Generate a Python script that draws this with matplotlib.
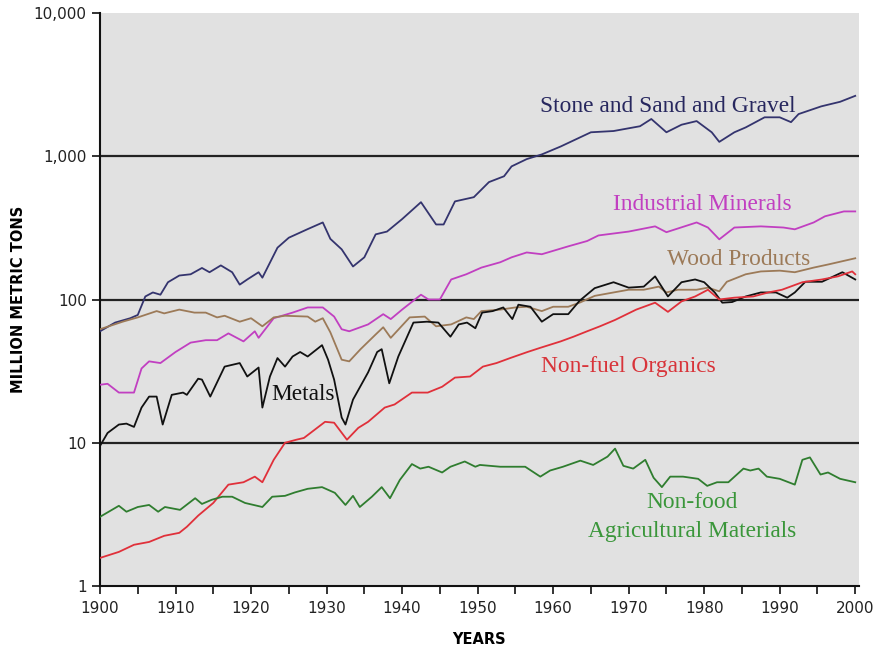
import matplotlib
matplotlib.use("Agg")
import matplotlib.pyplot as plt
from matplotlib.ticker import FixedLocator, MultipleLocator, NullLocator

# ---- series (year, million metric tons) ----
stone_years = [1900, 1902, 1904, 1905, 1906, 1907, 1908, 1909, 1910.5, 1912, 1913.5, 1914.5,
               1916, 1917.5, 1918.5, 1919.5, 1921, 1921.5, 1923.5, 1925, 1927.5, 1929.5, 1930.5,
               1932, 1933.5, 1935, 1936.5, 1938, 1940, 1942.5, 1944.5, 1945.5, 1947, 1949.5,
               1951.5, 1953.5, 1954.5, 1956.5, 1958.5, 1961, 1965, 1968, 1971.5, 1973, 1975,
               1977, 1979, 1981, 1982, 1984, 1985.5, 1988, 1990, 1991.5, 1992.5, 1995.5, 1998, 2000]
stone_vals = [60, 69, 74, 78, 105, 112, 108, 132, 147, 150, 166, 155,
              173, 155, 127, 138, 155, 142, 230, 270, 310, 345, 265,
              224, 170, 197, 285, 298, 364, 478, 334, 334, 484, 518,
              660, 725, 850, 955, 1030, 1170, 1470, 1500, 1620, 1820, 1470,
              1660, 1760, 1470, 1260, 1470, 1590, 1870, 1870, 1730, 1970, 2230, 2400, 2640]

indmin_years = [1900, 1901, 1902.5, 1904.5, 1905.5, 1906.5, 1908, 1910, 1912, 1914, 1915.5,
                1917, 1919, 1920.5, 1921, 1923, 1925.5, 1927.5, 1929.5, 1931, 1932, 1933,
                1935.5, 1937.5, 1938.5, 1940, 1942.5, 1943.5, 1945, 1946.5, 1948.5, 1950.5,
                1953, 1954.5, 1956.5, 1958.5, 1962, 1964.5, 1966, 1970, 1973.5, 1975, 1979,
                1980.5, 1982, 1984, 1987.5, 1990.5, 1992, 1994.5, 1996, 1998.5, 2000]
indmin_vals = [25.4, 25.8, 22.4, 22.4, 33, 37, 36, 43, 50, 52, 52,
               58, 51, 60, 54, 74, 81, 88, 88, 76, 62, 60,
               67, 79, 73, 85, 108, 100, 100, 138, 150, 167,
               182, 197, 213, 207, 235, 256, 280, 298, 324, 295, 345,
               318, 263, 318, 324, 318, 309, 345, 381, 412, 412]

wood_years = [1900, 1903, 1905, 1907.5, 1908.5, 1910.5, 1912.5, 1914, 1915.5, 1916.5, 1918.5,
              1920, 1921.5, 1923, 1924.5, 1927.5, 1928.5, 1929.5, 1930.5, 1932, 1933, 1934.5,
              1936.5, 1937.5, 1938.5, 1941, 1943, 1944.5, 1946.5, 1948.5, 1949.5, 1950.5,
              1953, 1955, 1956.5, 1958.5, 1960, 1962, 1963.5, 1965.5, 1968, 1970, 1972,
              1974, 1975, 1976.5, 1979, 1980.5, 1982, 1983, 1985.5, 1987.5, 1990, 1992,
              1994.5, 1996.5, 2000]
wood_vals = [62, 70, 75, 83, 80, 85, 81, 81, 75, 77, 70,
             74, 65, 75, 77, 76, 70, 74, 59, 38, 37, 45,
             57, 64, 54, 75, 76, 65, 67, 75, 73, 83,
             85, 88, 89, 83, 89, 89, 95, 106, 112, 117, 117,
             123, 112, 117, 117, 121, 114, 133, 150, 157, 159, 155,
             167, 176, 194]

metals_years = [1900, 1901, 1902.5, 1903.5, 1904.5, 1905.5, 1906.5, 1907.5, 1908.3, 1909.5,
                1911, 1911.5, 1913, 1913.5, 1914.6, 1916.5, 1918.5, 1919.5, 1921, 1921.5,
                1922.5, 1923.5, 1924.5, 1925.5, 1926.5, 1927.5, 1929.4, 1930.2, 1931,
                1932, 1932.5, 1933.5, 1935.5, 1936.7, 1937.3, 1938.3, 1939.5, 1941.5,
                1943.3, 1944.8, 1946.4, 1947.5, 1948.6, 1949.7, 1950.6, 1952, 1953.4,
                1954.6, 1955.4, 1957, 1958.5, 1960, 1962, 1963.5, 1965.5, 1968, 1970, 1972,
                1973.5, 1975.2, 1977, 1978.8, 1980, 1981.4, 1982.4, 1983.7, 1985.5, 1987.5,
                1989.5, 1991, 1992, 1993.4, 1995.6, 1998.3, 2000]
metals_vals = [9.5, 11.7, 13.4, 13.6, 12.9, 17.6, 21, 21, 13.4, 21.6,
               22.4, 21.6, 28, 27.6, 21, 34, 36, 29, 33.5, 17.6,
               29, 39, 34, 40, 43, 40, 48, 38, 27.6,
               15, 13.4, 20, 31, 43, 45, 26, 40, 69,
               70, 69, 55, 67, 69, 63, 81, 83, 88,
               73, 92, 89, 70, 79, 79, 98, 120, 132, 121, 123,
               145, 105, 132, 138, 132, 112, 95, 96, 105, 112,
               112, 103, 112, 133, 133, 155, 138]

organics_years = [1900, 1902.5, 1904.5, 1906.5, 1908.5, 1910.5, 1911.5, 1913, 1915, 1917,
                  1919, 1920.5, 1921.5, 1923, 1924.5, 1926, 1927, 1929.8, 1931, 1932.7,
                  1934.2, 1935.5, 1937.7, 1939, 1941.3, 1943.4, 1945.3, 1947, 1949, 1950.7,
                  1952.5, 1954.3, 1956.6, 1958.3, 1961, 1962.7, 1964.5, 1966.2, 1968.2,
                  1971, 1973.5, 1975.2, 1977, 1978.8, 1980.5, 1982, 1984, 1986.5, 1988.5,
                  1990.3, 1993, 1995.6, 1997.7, 1999.6, 2000]
organics_vals = [1.57, 1.73, 1.94, 2.03, 2.24, 2.35, 2.59, 3.1, 3.8, 5.1,
                 5.3, 5.8, 5.3, 7.6, 10, 10.5, 10.8, 14, 13.8, 10.5,
                 12.7, 14, 17.6, 18.5, 22.4, 22.4, 24.6, 28.5, 29, 34,
                 36, 39, 43, 46, 51, 55, 60, 65, 72,
                 85, 95, 82, 97, 105, 117, 100, 103, 105, 112,
                 117, 132, 138, 145, 157, 150]

agri_years = [1900, 1902.5, 1903.5, 1905, 1906.5, 1907.7, 1908.6, 1910.6, 1912.6, 1913.5,
              1914.8, 1916.2, 1917.5, 1919.2, 1921.5, 1922.8, 1924.5, 1925.8, 1927.5, 1929.4,
              1931.1, 1932.5, 1933.5, 1934.4, 1936, 1937.3, 1938.4, 1939.7, 1941.3, 1942.4,
              1943.5, 1945.3, 1946.4, 1948.3, 1949.7, 1950.3, 1953, 1956.3, 1958.3, 1959.6,
              1961.3, 1963.6, 1965.3, 1967.2, 1968.2, 1969.3, 1970.6, 1972.2, 1973.3, 1974.4,
              1975.5, 1977.2, 1979.2, 1980.4, 1981.7, 1983.2, 1985.2, 1986.1, 1987.2, 1988.3,
              1990, 1992, 1993, 1994, 1995.4, 1996.4, 1998, 2000]
agri_vals = [3.04, 3.63, 3.3, 3.56, 3.68, 3.3, 3.56, 3.4, 4.1, 3.74,
             4.0, 4.2, 4.2, 3.8, 3.56, 4.2, 4.26, 4.5, 4.77, 4.9,
             4.47, 3.68, 4.26, 3.56, 4.2, 4.9, 4.1, 5.5, 7.1, 6.6,
             6.8, 6.2, 6.8, 7.4, 6.8, 7.0, 6.8, 6.8, 5.8, 6.4,
             6.8, 7.5, 7.0, 8.0, 9.1, 6.9, 6.6, 7.6, 5.7, 4.9,
             5.8, 5.8, 5.6, 5.0, 5.3, 5.3, 6.6, 6.4, 6.6, 5.8,
             5.6, 5.1, 7.6, 7.9, 6.0, 6.2, 5.6, 5.3]

# ---- axis text ----
ytick_vals = [1, 10, 100, 1000, 10000]
ytick_labels = ["1", "10", "100", "1,000", "10,000"]
xtick_vals = list(range(1900, 2001, 10))
rule_levels = [10, 100, 1000]

series = [
    (stone_years, stone_vals, "#34346e"),
    (indmin_years, indmin_vals, "#c13fc1"),
    (wood_years, wood_vals, "#9c7a58"),
    (metals_years, metals_vals, "#111111"),
    (organics_years, organics_vals, "#e0303a"),
    (agri_years, agri_vals, "#2f7d2f"),
]

fig = plt.figure(figsize=(8.76, 6.55), dpi=100)
ax = fig.add_axes([100 / 876, 69 / 655, 759 / 876, 573 / 655])
ax.set_facecolor("#e1e1e1")
ax.set_yscale("log")
ax.set_xlim(1900, 2000.5)
ax.set_ylim(1, 10000)

for lvl in rule_levels:
    ax.axhline(lvl, color="#222222", lw=1.6, zorder=1)

for xs, ys, col in series:
    ax.plot(xs, ys, color=col, lw=1.3, zorder=3)

for side in ("top", "right"):
    ax.spines[side].set_visible(False)
for side in ("left", "bottom"):
    ax.spines[side].set_color("#111111")
    ax.spines[side].set_linewidth(1.5)

ax.yaxis.set_major_locator(FixedLocator(ytick_vals))
ax.yaxis.set_minor_locator(NullLocator())
ax.set_yticklabels(ytick_labels)
ax.xaxis.set_major_locator(FixedLocator(xtick_vals))
ax.xaxis.set_minor_locator(MultipleLocator(5))
ax.tick_params(axis="both", which="both", direction="out", length=6, width=1.2,
               color="#111111", labelsize=11, labelcolor="#222222")
ax.tick_params(axis="x", pad=5)

ax.set_xlabel("YEARS", fontsize=10.5, fontweight="bold")
ax.set_ylabel("MILLION METRIC TONS", fontsize=10.5, fontweight="bold")
ax.xaxis.set_label_coords(0.5, -0.094)
ax.yaxis.set_label_coords(-0.108, 0.5)
ax.xaxis.label.set_va("center")
ax.yaxis.label.set_va("center")

serif = "Liberation Serif"
lab = dict(family=serif, fontsize=16.8, ha="center", va="center", zorder=4)
ax.text(1975.2, 2240, "Stone and Sand and Gravel", color="#27275e", **lab)
ax.text(1979.7, 462, "Industrial Minerals", color="#c13fc1", **lab)
ax.text(1984.5, 190, "Wood Products", color="#9c7a58", **lab)
ax.text(1926.9, 21.7, "Metals", color="#111111", **lab)
ax.text(1969.9, 34, "Non-fuel Organics", color="#d8343a", **lab)
ax.text(1978.4, 3.8, "Non-food", color="#3a963a", **lab)
ax.text(1978.4, 2.42, "Agricultural Materials", color="#3a963a", **lab)

fig.savefig("out.png", dpi=100, facecolor="white")
